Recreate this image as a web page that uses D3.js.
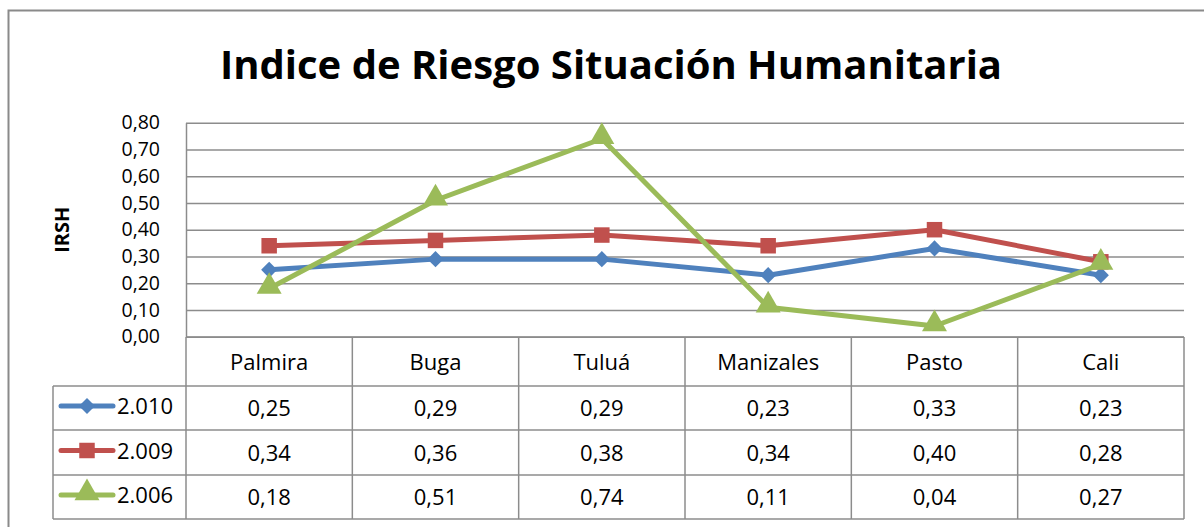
<!DOCTYPE html>
<html>
<head>
<meta charset="utf-8">
<script src="https://cdn.jsdelivr.net/npm/d3@7"></script>
<style>
  body { margin: 0; background: #fff; }
  svg { display: block; font-family: "Open Sans", "Noto Sans", sans-serif; }
</style>
</head>
<body>
<div id="chart"></div>
<script>
// data
var cities = ["Palmira", "Buga", "Tuluá", "Manizales", "Pasto", "Cali"];
var years = ["2.010", "2.009", "2.006"];
var irsh2010 = [0.25, 0.29, 0.29, 0.23, 0.33, 0.23];
var irsh2009 = [0.34, 0.36, 0.38, 0.34, 0.40, 0.28];
var irsh2006 = [0.18, 0.51, 0.74, 0.11, 0.04, 0.27];
var yTicks = [0, 0.1, 0.2, 0.3, 0.4, 0.5, 0.6, 0.7, 0.8];

var series = [
  {name: years[0], values: irsh2010, color: "#4F81BD", marker: d3.symbolSquare, rot: 45, msize: 130},
  {name: years[1], values: irsh2009, color: "#C0504D", marker: d3.symbolSquare, rot: 0, msize: 240},
  {name: years[2], values: irsh2006, color: "#9BBB59", marker: d3.symbolTriangle, rot: 0, msize: 270}
];

var W = 1204, H = 527;
var plot = {left: 186, right: 1184, top: 122.7, bottom: 336.7};
var rowH = [337, 386, 430, 475, 519]; // table row lines
var legendLeft = 53;
var gridColor = "#8c8c8c";
var fs = 22;
var axisFs = 19.5;
var fmt = function(v) { return v.toFixed(2).replace(".", ","); };

var svg = d3.select("#chart").append("svg")
  .attr("width", W).attr("height", H);

// outer chart border (only top + left visible in the picture)
svg.append("path")
  .attr("d", "M8.5," + H + " V10.5 H" + W)
  .attr("fill", "none").attr("stroke", "#8a8a8a").attr("stroke-width", 2);

svg.append("text")
  .attr("x", 611).attr("y", 79)
  .attr("text-anchor", "middle")
  .attr("font-weight", "bold").attr("font-size", 40)
  .text("Indice de Riesgo Situación Humanitaria");

var x = d3.scaleBand().domain(cities).range([plot.left, plot.right]);
var y = d3.scaleLinear().domain([0, 0.8]).range([plot.bottom, plot.top]);

// gridlines
svg.append("g")
  .attr("transform", "translate(" + plot.left + ",0)")
  .call(d3.axisLeft(y).tickValues(yTicks).tickSize(-(plot.right - plot.left)).tickFormat(""))
  .call(function(g) {
    g.select(".domain").remove();
    g.selectAll("line").attr("stroke", gridColor).attr("stroke-width", 1.5);
  });

// y axis labels
svg.append("g")
  .attr("transform", "translate(" + plot.left + ",0)")
  .call(d3.axisLeft(y).tickValues(yTicks).tickSize(0).tickPadding(26).tickFormat(fmt))
  .call(function(g) {
    g.select(".domain").attr("stroke", gridColor).attr("stroke-width", 1.5);
    g.selectAll("text").attr("font-size", axisFs).attr("fill", "#000")
      .attr("font-family", "'Open Sans', sans-serif");
  });

svg.append("text")
  .attr("transform", "translate(69," + ((plot.top + plot.bottom) / 2) + ") rotate(-90)")
  .attr("text-anchor", "middle")
  .attr("font-weight", "bold").attr("font-size", 20)
  .text("IRSH");

// data table grid
var tbl = svg.append("g").attr("stroke", gridColor).attr("stroke-width", 1.5).attr("fill", "none");
x.domain().forEach(function(c) {
  tbl.append("line").attr("x1", x(c)).attr("x2", x(c)).attr("y1", rowH[0]).attr("y2", rowH[4]);
});
tbl.append("line").attr("x1", plot.right).attr("x2", plot.right).attr("y1", rowH[0]).attr("y2", rowH[4]);
tbl.append("line").attr("x1", legendLeft).attr("x2", legendLeft).attr("y1", rowH[1]).attr("y2", rowH[4]);
for (var i = 1; i < rowH.length; i++) {
  tbl.append("line").attr("x1", legendLeft).attr("x2", plot.right).attr("y1", rowH[i]).attr("y2", rowH[i]);
}
tbl.append("line").attr("x1", plot.left).attr("x2", plot.right).attr("y1", rowH[0]).attr("y2", rowH[0]);

// category header
svg.append("g").selectAll("text").data(cities).join("text")
  .attr("x", function(d) { return x(d) + x.bandwidth() / 2; })
  .attr("y", (rowH[0] + rowH[1]) / 2 + 8)
  .attr("text-anchor", "middle").attr("font-size", fs)
  .text(function(d) { return d; });

// lines + markers
var line = d3.line()
  .x(function(d, i) { return x(cities[i]) + x.bandwidth() / 2; })
  .y(function(d) { return y(d); });

function markerTransform(s, px, py) {
  var dy = s.marker === d3.symbolTriangle ? -2 : 0;
  return "translate(" + px + "," + (py + dy) + ") rotate(" + s.rot + ")";
}

series.forEach(function(s) {
  var g = svg.append("g");
  g.append("path").datum(s.values)
    .attr("d", line).attr("fill", "none")
    .attr("stroke", s.color).attr("stroke-width", 5).attr("stroke-linejoin", "round");
  g.selectAll("path.m").data(s.values).join("path").attr("class", "m")
    .attr("transform", function(d, i) {
      return markerTransform(s, x(cities[i]) + x.bandwidth() / 2, y(d));
    })
    .attr("d", d3.symbol().type(s.marker).size(s.msize))
    .attr("fill", s.color);
});

// table rows with legend keys
series.forEach(function(s, r) {
  var cy = (rowH[r + 1] + rowH[r + 2]) / 2;
  var g = svg.append("g");
  g.append("line").attr("x1", 61).attr("x2", 113).attr("y1", cy - 2).attr("y2", cy - 2)
    .attr("stroke", s.color).attr("stroke-width", 5).attr("stroke-linecap", "round");
  g.append("path")
    .attr("transform", markerTransform(s, 87, cy - 2))
    .attr("d", d3.symbol().type(s.marker).size(s.msize))
    .attr("fill", s.color);
  g.append("text").attr("x", 117).attr("y", cy + 6)
    .attr("font-size", fs).text(s.name);
  g.selectAll("text.v").data(s.values).join("text").attr("class", "v")
    .attr("x", function(d, i) { return x(cities[i]) + x.bandwidth() / 2; })
    .attr("y", cy + 8)
    .attr("text-anchor", "middle").attr("font-size", fs)
    .text(fmt);
});
</script>
</body>
</html>
